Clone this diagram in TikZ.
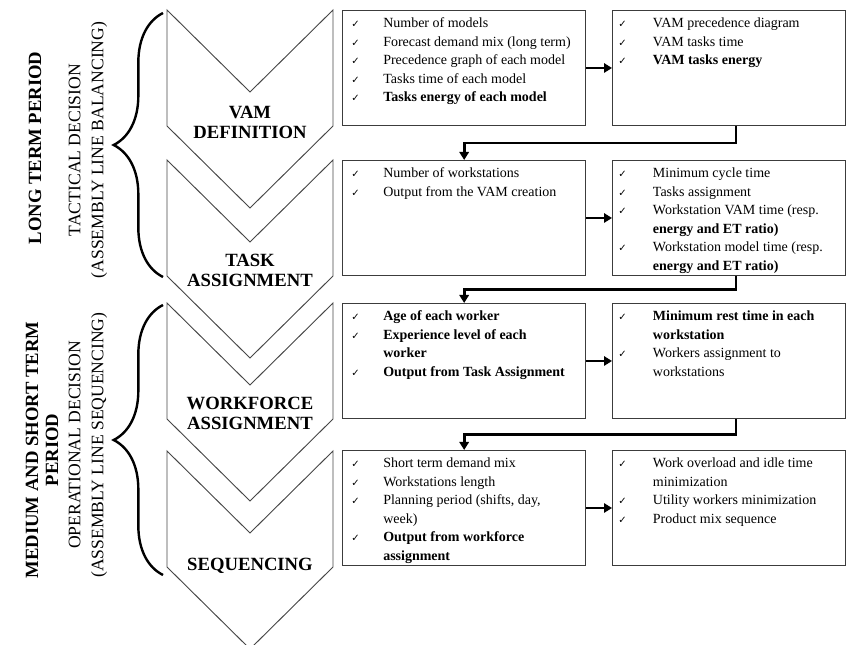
\documentclass[tikz,border=0pt]{standalone}
\usepackage{fontspec}
\setmainfont{Liberation Serif}
\newfontfamily\chkfont{DejaVu Sans}
\usetikzlibrary{arrows.meta,positioning,calc,decorations.pathreplacing}
\definecolor{boxgray} {RGB}{60,60,60}
\definecolor{chevgray}{RGB}{70,70,70}
\newcommand{\chkmark}{{\chkfont\fontsize{7.5}{9}\selectfont ✓}}
\tikzset{
  chev/.style={draw=chevgray,line width=0.7pt,line join=miter},
  stage/.style={font=\fontsize{14}{15}\selectfont\bfseries,align=center},
  blk/.style={draw=boxgray,line width=1pt,anchor=north west,
    minimum width=182.25pt,minimum height=86pt,inner sep=0pt},
  blkout/.style={blk,minimum width=174.75pt},
  items/.style={anchor=north west,inner sep=0pt,
    font=\fontsize{10.5}{13.9}\selectfont},
  arr/.style={-{Triangle[length=6pt,width=7pt]},line width=2pt},
  brc/.style={decorate,decoration={brace,amplitude=37pt,aspect=0.5},
    line width=1.8pt},
  period/.style={rotate=90,font=\fontsize{14}{15}\selectfont\bfseries,align=center},
  level/.style={rotate=90,font=\fontsize{13.2}{17.25}\selectfont,align=center},
}

\begin{document}
\begin{tikzpicture}[x=0.75pt,y=-0.75pt]
  \useasboundingbox (0,0) rectangle (847,645);

  % stage chevrons
  \foreach \t in {10,160,303,451}
    \draw[chev](167,\t) -- (250,{\t+82}) -- (333,\t) -- (333,{\t+116})
      -- (250,{\t+198}) -- (167,{\t+116}) -- cycle;
  \node[stage](vam)  at (250,122){VAM\\DEFINITION};
  \node[stage](task) at (250,270){TASK\\ASSIGNMENT};
  \node[stage](work) at (250,413){WORKFORCE\\ASSIGNMENT};
  \node[stage](seq)  at (250,566){SEQUENCING};

  % periods and decision levels
  \draw[brc](163,277) -- (163,13);
  \draw[brc](163,575) -- (163,305);
  \node[period](longterm) at (35,148){LONG TERM PERIOD};
  \node[level](tactical) at (88,150){TACTICAL DECISION\\(ASSEMBLY LINE BALANCING)};
  \node[period](midterm) at (42,450){MEDIUM AND SHORT TERM\\PERIOD};
  \node[level](operational) at (88,445){OPERATIONAL DECISION\\(ASSEMBLY LINE SEQUENCING)};

  % input and output boxes
  \node[blk](vamin)     at (342,10){};
  \node[blkout](vamout) at (612,10){};
  \node[blk](taskin)    at (342,160){};
  \node[blkout](taskout) at (612,160){};
  \node[blk](workin)    at (342,303){};
  \node[blkout](workout) at (612,303){};
  \node[blk](seqin)     at (342,450){};
  \node[blkout](seqout) at (612,450){};

  \node[items](vaminl) at ([shift={(9,4.5)}]vamin.north west){%
    \begin{tabular}{@{}p{24pt}@{}l@{}}
      \chkmark & Number of models\\
      \chkmark & Forecast demand mix (long term)\\
      \chkmark & Precedence graph of each model\\
      \chkmark & Tasks time of each model\\
      \chkmark & \textbf{Tasks energy of each model}
    \end{tabular}};
  \node[items](vamoutl) at ([shift={(6,4.5)}]vamout.north west){%
    \begin{tabular}{@{}p{26pt}@{}l@{}}
      \chkmark & VAM precedence diagram\\
      \chkmark & VAM tasks time\\
      \chkmark & \textbf{VAM tasks energy}
    \end{tabular}};
  \node[items](taskinl) at ([shift={(9,4.5)}]taskin.north west){%
    \begin{tabular}{@{}p{24pt}@{}l@{}}
      \chkmark & Number of workstations\\
      \chkmark & Output from the VAM creation
    \end{tabular}};
  \node[items](taskoutl) at ([shift={(6,4.5)}]taskout.north west){%
    \begin{tabular}{@{}p{26pt}@{}l@{}}
      \chkmark & Minimum cycle time\\
      \chkmark & Tasks assignment\\
      \chkmark & Workstation VAM time (resp.\\
               & \textbf{energy and ET ratio)}\\
      \chkmark & Workstation model time (resp.\\
               & \textbf{energy and ET ratio)}
    \end{tabular}};
  \node[items](workinl) at ([shift={(9,4.5)}]workin.north west){%
    \begin{tabular}{@{}p{24pt}@{}l@{}}
      \chkmark & \textbf{Age of each worker}\\
      \chkmark & \textbf{Experience level of each}\\
               & \textbf{worker}\\
      \chkmark & \textbf{Output from Task Assignment}
    \end{tabular}};
  \node[items](workoutl) at ([shift={(6,4.5)}]workout.north west){%
    \begin{tabular}{@{}p{26pt}@{}l@{}}
      \chkmark & \textbf{Minimum rest time in each}\\
               & \textbf{workstation}\\
      \chkmark & Workers assignment to\\
               & workstations
    \end{tabular}};
  \node[items](seqinl) at ([shift={(9,4.5)}]seqin.north west){%
    \begin{tabular}{@{}p{24pt}@{}l@{}}
      \chkmark & Short term demand mix\\
      \chkmark & Workstations length\\
      \chkmark & Planning period (shifts, day,\\
               & week)\\
      \chkmark & \textbf{Output from workforce}\\
               & \textbf{assignment}
    \end{tabular}};
  \node[items](seqoutl) at ([shift={(6,4.5)}]seqout.north west){%
    \begin{tabular}{@{}p{26pt}@{}l@{}}
      \chkmark & Work overload and idle time\\
               & minimization\\
      \chkmark & Utility workers minimization\\
      \chkmark & Product mix sequence
    \end{tabular}};

  % flow between boxes
  \draw[arr](vamin.east)  -- (vamin.east -| vamout.west);
  \draw[arr](taskin.east) -- (taskin.east -| taskout.west);
  \draw[arr](workin.east) -- (workin.east -| workout.west);
  \draw[arr](seqin.east)  -- (seqin.east -| seqout.west);
  \draw[arr]([xshift=5pt]vamout.south) |- ($(vamout.south)!.5!(taskin.north)$) -| (taskin.north);
  \draw[arr]([xshift=5pt]taskout.south) |- ($(taskout.south)!.5!(workin.north)$) -| (workin.north);
  \draw[arr]([xshift=5pt]workout.south) |- ($(workout.south)!.5!(seqin.north)$) -| (seqin.north);
\end{tikzpicture}
\end{document}
